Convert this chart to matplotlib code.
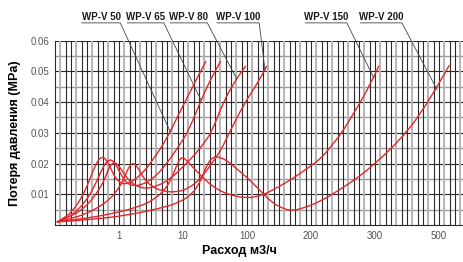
import numpy as np
import matplotlib
matplotlib.use("Agg")
import matplotlib.pyplot as plt
from matplotlib.path import Path
from matplotlib.patches import PathPatch

plt.rcParams['font.family'] = ['Liberation Sans', 'DejaVu Sans']

# x is the position on the chart's pictorial flow axis (one step per tick label)
tick_labels = ['1', '10', '100', '200', '300', '500']
tick_pos = [1, 2, 3, 4, 5, 6]

models = ['WP-V 50', 'WP-V 65', 'WP-V 80', 'WP-V 100', 'WP-V 150', 'WP-V 200']

x_50 = [0.03, 0.16, 0.27, 0.39, 0.50, 0.59, 0.67, 0.73, 0.80, 0.87, 0.95, 1.05, 1.14, 1.25, 1.41, 1.56, 1.69, 1.80, 1.98, 2.17, 2.36]
y_50 = [.001, .0025, .0045, .008, .0125, .0175, .0210, .0222, .0214, .0185, .015, .0134, .0135, .0148, .0178, .0222, .0262, .0304, .0380, .0458, .0534]

x_65 = [0.03, 0.16, 0.31, 0.47, 0.59, 0.70, 0.78, 0.86, 0.94, 1.02, 1.11, 1.22, 1.36, 1.52, 1.67, 1.83, 1.95, 2.08, 2.27, 2.42, 2.59]
y_65 = [.001, .002, .004, .0075, .0115, .0165, .0200, .0215, .0202, .0168, .0138, .0127, .0131, .0150, .0180, .0225, .0262, .0304, .040, .047, .0534]

x_80 = [0.03, 0.23, 0.39, 0.55, 0.67, 0.77, 0.84, 0.92, 1.00, 1.08, 1.20, 1.33, 1.45, 1.61, 1.80, 1.98, 2.19, 2.34, 2.45, 2.63, 2.80, 2.98]
y_80 = [.001, .0028, .0045, .0075, .011, .0145, .0187, .0206, .0193, .0165, .0135, .0122, .0119, .0128, .0150, .0185, .0230, .0270, .0304, .040, .0465, .0518]

x_100 = [0.03, 0.23, 0.47, 0.70, 0.86, 0.98, 1.08, 1.14, 1.22, 1.30, 1.39, 1.52, 1.67, 1.88, 2.08, 2.27, 2.45, 2.61, 2.73, 2.97, 3.16, 3.31]
y_100 = [.001, .002, .0035, .006, .0085, .0115, .015, .0185, .0204, .0186, .0150, .0124, .0111, .0106, .0118, .0150, .0200, .0250, .0304, .040, .046, .0518]

x_150 = [0.03, 0.39, 0.86, 1.33, 1.56, 1.72, 1.83, 1.91, 1.98, 2.06, 2.19, 2.34, 2.47, 2.61, 2.77, 3.00, 3.23, 3.44, 3.64, 3.81, 3.98, 4.14, 4.31, 4.48, 4.64, 4.80, 4.95, 5.06]
y_150 = [.001, .0019, .0035, .0060, .0085, .0115, .0155, .0200, .0223, .0210, .0180, .0148, .0125, .0108, .0096, .0087, .0096, .0118, .0142, .0165, .0190, .0214, .0255, .0300, .0355, .041, .047, .0518]

x_200 = [0.03, 0.55, 1.17, 1.72, 1.95, 2.14, 2.27, 2.36, 2.45, 2.55, 2.67, 2.80, 2.97, 3.16, 3.28, 3.41, 3.55, 3.67, 3.83, 4.14, 4.45, 4.77, 5.00, 5.23, 5.50, 5.70, 5.94, 6.16]
y_200 = [.001, .0017, .0033, .0058, .0075, .0100, .0140, .0190, .0220, .0222, .0212, .0190, .0160, .0122, .0095, .0071, .0055, .0047, .0051, .0076, .0115, .0160, .0201, .0244, .0305, .036, .044, .052]

curves = [(x_50, y_50), (x_65, y_65), (x_80, y_80), (x_100, y_100), (x_150, y_150), (x_200, y_200)]

# label text span on the axis and where its leader meets the curve
label_left = [0.42, 1.13, 1.80, 2.53, 3.91, 4.77]
label_right = [1.02, 1.70, 2.38, 3.19, 4.56, 5.42]
leader_end = [(1.80, 0.0304), (2.28, 0.0407), (2.84, 0.0475), (3.28, 0.0505), (4.98, 0.0479), (5.97, 0.0440)]


def smooth_path(xs, ys):
    # quadratic bezier through the midpoints, read points act as control points
    pts = list(zip(xs, ys))
    verts = [pts[0]]
    codes = [Path.MOVETO]
    for i in range(1, len(pts) - 1):
        mid = ((pts[i][0] + pts[i + 1][0]) / 2, (pts[i][1] + pts[i + 1][1]) / 2)
        verts += [pts[i], mid]
        codes += [Path.CURVE3, Path.CURVE3]
    verts.append(pts[-1])
    codes.append(Path.LINETO)
    return Path(verts, codes)


fig = plt.figure(figsize=(4.64, 2.62), dpi=100)
ax = fig.add_axes([0.1185, 0.1412, 0.8795, 0.7035])

ax.set_xlim(0, 6.375)
ax.set_ylim(0, 0.06)

# background grid
for k, yv in enumerate(np.arange(0.005, 0.0601, 0.005)):
    if k % 2 == 0:
        ax.axhline(yv, color='#9a9a9a', lw=1.0, zorder=1)
    else:
        ax.axhline(yv, color='#2a2a2a', lw=0.8, zorder=1)
step = 1 / 12
for k in range(1, 77):
    xv = k * step
    if k % 3 == 1:
        ax.axvline(xv, color='#b4b4b4', lw=1.4, zorder=1)
    else:
        ax.axvline(xv, color='#2a2a2a', lw=0.8, zorder=1)

for xs, ys in curves:
    ax.add_patch(PathPatch(smooth_path(xs, ys), fill=False, edgecolor='#e3262b',
                           lw=1.0, zorder=3))

for name, xl, xr, (xe, ye) in zip(models, label_left, label_right, leader_end):
    ax.text((xl + xr) / 2, 0.0678, name, ha='center', va='center', fontsize=7,
            fontweight='bold', color='#1a1a1a', clip_on=False)
    ax.plot([xl, xr, xe], [0.0658, 0.0658, ye], color='#444444', lw=0.6,
            clip_on=False, zorder=4)

ax.set_xticks(tick_pos)
ax.set_xticklabels(tick_labels)
ax.set_yticks([0.01, 0.02, 0.03, 0.04, 0.05, 0.06])
ax.set_yticklabels(['0.01', '0.02', '0.03', '0.04', '0.05', '0.06'])
ax.tick_params(length=0, labelsize=7, labelcolor='#555555', pad=4)
for s in ax.spines.values():
    s.set_visible(False)
for side in ('left', 'bottom'):
    ax.spines[side].set_visible(True)
    ax.spines[side].set_color('#2a2a2a')
    ax.spines[side].set_linewidth(0.8)

ax.set_xlabel('Расход м3/ч', fontsize=9, fontweight='bold')
ax.xaxis.set_label_coords(0.453, -0.11)
ax.set_ylabel('Потеря давления (MPa)', fontsize=9, fontweight='bold')
ax.yaxis.set_label_coords(-0.083, 0.5)

fig.savefig('out.png', dpi=100)
